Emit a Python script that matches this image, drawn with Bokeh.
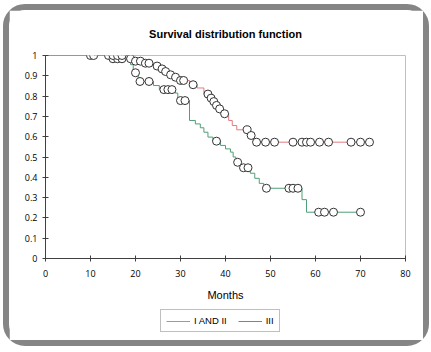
import numpy as np
from bokeh.plotting import figure
from bokeh.layouts import column
from bokeh.models import Range1d, Legend, LegendItem, FixedTicker
from bokeh.embed import file_html
from bokeh.resources import INLINE

# ---- data ----
x_ticks = [0, 10, 20, 30, 40, 50, 60, 70, 80]
y_ticks = [0, 0.1, 0.2, 0.3, 0.4, 0.5, 0.6, 0.7, 0.8, 0.9, 1]

red_name = "I AND II"
red_times = [14.5, 19.5, 21.8, 24.0, 25.4, 26.3, 27.3, 28.4, 29.5, 32.0, 33.7, 35.2,
             36.5, 37.1, 37.7, 38.3, 39.2, 40.7, 41.5, 42.5, 45.3, 46.2]
red_surv = [0.984, 0.972, 0.962, 0.948, 0.934, 0.921, 0.905, 0.893, 0.877, 0.856, 0.84, 0.81,
            0.79, 0.773, 0.754, 0.737, 0.713, 0.68, 0.655, 0.634, 0.606, 0.573]
red_censor = [10, 14, 15, 16, 17, 18.9, 20, 21.1, 22.2, 23, 24.8, 25.9, 26.7, 27.8, 28.9,
              30, 30.7, 32.8, 36.1, 36.8, 37.4, 38, 38.7, 39.8, 44.8, 45.7, 46.9, 48.9,
              50.9, 55, 57, 58, 58.9, 60.9, 62.9, 67.9, 70, 72]
red_end = 72

green_name = "III"
green_times = [18.9, 19.5, 20.6, 24.0, 25.3, 28.8, 29.4, 32.0, 33.3, 34.4, 35.2, 36.1, 37.2,
               38.9, 40.0, 41.1, 41.7, 42.3, 43.4, 45.5, 46.5, 47.5, 48.5, 57.0, 58.0]
green_surv = [0.955, 0.915, 0.872, 0.852, 0.832, 0.815, 0.778, 0.68, 0.663, 0.644, 0.622, 0.598, 0.578,
              0.557, 0.54, 0.524, 0.5, 0.474, 0.447, 0.42, 0.395, 0.37, 0.346, 0.29, 0.228]
green_censor = [10.7, 15, 16, 17, 20, 21, 23, 26.3, 27.2, 28.1, 30, 31, 38, 42.7, 44, 45,
                49.1, 54.1, 55, 56.1, 60.7, 62, 64, 70]
green_end = 70


def step_xy(times, surv, end):
    xs = [0] + list(times) + [end]
    ys = [1.0] + list(surv) + [surv[-1]]
    return xs, ys


def surv_at(times, surv, t):
    t_arr = np.asarray(times)
    s_arr = np.concatenate([[1.0], np.asarray(surv)])
    idx = np.searchsorted(t_arr, np.asarray(t), side="right")
    return s_arr[idx]


RED = "#e27c80"
GREEN = "#4f9f76"
TXT = "#000000"
AX = "#404040"

rx, ry = step_xy(red_times, red_surv, red_end)
gx, gy = step_xy(green_times, green_surv, green_end)

# ---- main chart ----
p = figure(frame_width=360, frame_height=203,
           min_border_left=36, min_border_right=18, min_border_top=0, min_border_bottom=50,
           x_range=Range1d(0, 80), y_range=Range1d(0, 1),
           output_backend="svg", toolbar_location=None,
           title="Survival distribution function")
p.margin = (0, 0, 0, 0)

p.title.align = "center"
p.title.text_font = "Liberation Sans"
p.title.text_font_size = "11px"
p.title.text_font_style = "bold"
p.title.text_color = TXT
p.title.standoff = 31

p.background_fill_color = "white"
p.border_fill_color = "white"
p.outline_line_color = "#bfbfbf"
p.outline_line_width = 1
p.xgrid.visible = False
p.ygrid.visible = False

for ax in (p.xaxis[0], p.yaxis[0]):
    ax.axis_line_color = AX
    ax.major_tick_line_color = AX
    ax.minor_tick_line_color = None
    ax.major_tick_in = 3
    ax.major_tick_out = 3
    ax.major_label_text_font = "Open Sans"
    ax.major_label_text_font_size = "9px"
    ax.major_label_text_color = TXT

p.xaxis.ticker = FixedTicker(ticks=x_ticks)
p.yaxis.ticker = FixedTicker(ticks=y_ticks)
p.yaxis.major_label_overrides = {v: ("%g" % v) for v in y_ticks}
p.xaxis.major_label_standoff = 8
p.yaxis.major_label_standoff = 5
p.xaxis.axis_label = "Months"
p.xaxis.axis_label_text_font = "Liberation Sans"
p.xaxis.axis_label_text_font_size = "11px"
p.xaxis.axis_label_text_font_style = "normal"
p.xaxis.axis_label_text_color = TXT
p.xaxis.axis_label_standoff = 9

p.step(rx, ry, mode="after", line_color=RED, line_width=1)
p.step(gx, gy, mode="after", line_color=GREEN, line_width=1)

p.scatter(red_censor, surv_at(red_times, red_surv, red_censor), size=8,
          fill_color="white", line_color="#333333", line_width=1)
p.scatter(green_censor, surv_at(green_times, green_surv, green_censor), size=8,
          fill_color="white", line_color="#333333", line_width=1)

# ---- legend strip (same borders as the chart; its ranges keep the lines out of view) ----
lg = figure(frame_width=360, frame_height=32,
            min_border_left=36, min_border_right=18, min_border_top=0, min_border_bottom=0,
            x_axis_type=None, y_axis_type=None,
            x_range=Range1d(0, 80), y_range=Range1d(10, 11),
            output_backend="svg", toolbar_location=None)
lg.outline_line_color = None
lg.background_fill_color = "white"
lg.border_fill_color = "white"
lg.xgrid.visible = False
lg.ygrid.visible = False
lr = lg.step(rx, ry, mode="after", line_color=RED, line_width=1)
lgr = lg.step(gx, gy, mode="after", line_color=GREEN, line_width=1)

legend = Legend(items=[LegendItem(label=red_name, renderers=[lr]),
                       LegendItem(label=green_name, renderers=[lgr])],
                orientation="horizontal", location=(115, 8))
legend.border_line_color = "#7f7f7f"
legend.border_line_width = 1
legend.background_fill_color = "white"
legend.background_fill_alpha = 1
legend.label_text_font = "Liberation Sans"
legend.label_text_font_size = "9.5px"
legend.label_text_color = TXT
legend.glyph_width = 24
legend.glyph_height = 10
legend.label_height = 10
legend.label_width = 6
legend.label_standoff = 4
legend.spacing = 11
legend.padding = 5
legend.margin = 0
lg.add_layout(legend)

layout = column(p, lg, spacing=0)
layout.margin = (4, 0, 0, 3)
layout.styles = {"border": "6px solid #858585", "border-radius": "22px",
                 "background-color": "white"}

open("out.html", "w").write(file_html(layout, INLINE))
